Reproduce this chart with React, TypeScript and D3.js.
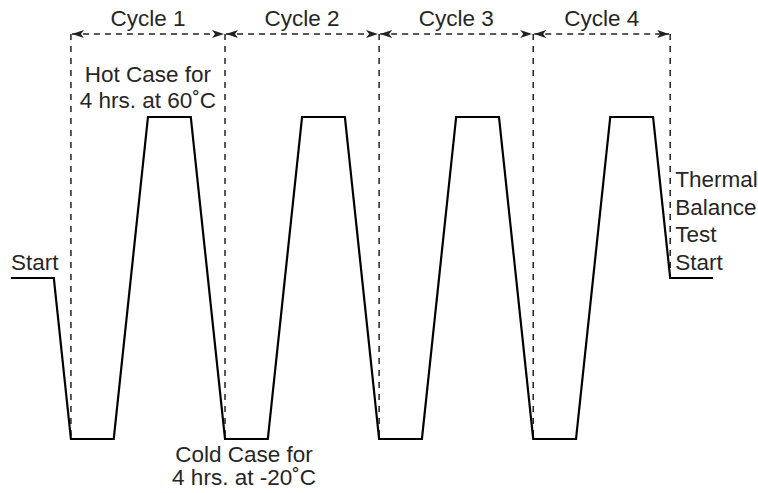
import React from "react";
import * as d3 from "d3";

// Profile: time (hours) vs temperature (°C)
const times = [0, 4, 5.6, 9.6, 12.8, 16.8, 20, 24, 27.2, 31.2, 34.4, 38.4, 41.6, 45.6, 48.8, 52.8, 56, 60, 61.6, 65.6];
const temps = [20, 20, -20, -20, 60, 60, -20, -20, 60, 60, -20, -20, 60, 60, -20, -20, 60, 60, 20, 20];
const cycleBounds = [5.6, 20, 34.4, 48.8, 61.6];
const cycleLabels = ["Cycle 1", "Cycle 2", "Cycle 3", "Cycle 4"];
const hotLabel = ["Hot Case for", "4 hrs. at 60˚C"];
const coldLabel = ["Cold Case for", "4 hrs. at -20˚C"];
const endLabel = ["Thermal", "Balance", "Test", "Start"];
const startLabel = "Start";

const W = 758;
const H = 493;

export default function App() {
  const x = d3.scaleLinear().domain([0, 65.6]).range([11, 713]);
  const y = d3.scaleLinear().domain([-20, 60]).range([439, 117]);
  const pts: [number, number][] = times.map((t, i) => [t, temps[i]]);
  const line = d3
    .line<[number, number]>()
    .x((d) => x(d[0]))
    .y((d) => y(d[1]));
  const interp = (t: number) => {
    for (let i = 0; i < times.length - 1; i++) {
      if (t >= times[i] && t <= times[i + 1]) {
        const f = (t - times[i]) / (times[i + 1] - times[i] || 1);
        return temps[i] + f * (temps[i + 1] - temps[i]);
      }
    }
    return temps[temps.length - 1];
  };
  const arrowY = 34;
  const textColor = "#262626";
  const font = "'Liberation Sans', Arial, Helvetica, sans-serif";
  const fs = 22.5;

  return (
    <svg
      width={W}
      height={H}
      style={{ position: "absolute", left: 0, top: 0, background: "#fff" }}
    >
      <defs>
        <marker
          id="ah"
          viewBox="0 0 12 8"
          refX="12"
          refY="4"
          markerWidth="12"
          markerHeight="8"
          markerUnits="userSpaceOnUse"
          orient="auto-start-reverse"
        >
          <path d="M0,0 L12,4 L0,8 L3,4 Z" fill="#222" />
        </marker>
      </defs>
      {/* dashed verticals */}
      {cycleBounds.map((t, i) => (
        <line
          key={"v" + i}
          x1={x(t)}
          x2={x(t)}
          y1={arrowY}
          y2={y(interp(t)) - 2}
          stroke="#222"
          strokeWidth={1.5}
          strokeDasharray="6,6"
        />
      ))}
      {/* cycle arrows */}
      {cycleLabels.map((lab, i) => {
        const x0 = x(cycleBounds[i]);
        const x1 = x(cycleBounds[i + 1]);
        return (
          <g key={"c" + i}>
            <line
              x1={x0 + 1}
              x2={x1 - 1}
              y1={arrowY}
              y2={arrowY}
              stroke="#222"
              strokeWidth={1.5}
              strokeDasharray="6,5"
              markerStart="url(#ah)"
              markerEnd="url(#ah)"
            />
            <text
              x={(x0 + x1) / 2}
              y={26}
              textAnchor="middle"
              fontFamily={font}
              fontSize={fs}
              fill={textColor}
            >
              {lab}
            </text>
          </g>
        );
      })}
      {/* profile */}
      <path d={line(pts) || ""} fill="none" stroke="#000" strokeWidth={2.2} strokeLinejoin="miter" />
      {/* labels */}
      {hotLabel.map((s, i) => (
        <text
          key={"h" + i}
          x={(x(cycleBounds[0]) + x(cycleBounds[1])) / 2}
          y={82 + i * 26}
          textAnchor="middle"
          fontFamily={font}
          fontSize={fs}
          fill={textColor}
        >
          {s}
        </text>
      ))}
      {coldLabel.map((s, i) => (
        <text
          key={"k" + i}
          x={x(cycleBounds[1]) + 19}
          y={462 + i * 23}
          textAnchor="middle"
          fontFamily={font}
          fontSize={fs}
          fill={textColor}
        >
          {s}
        </text>
      ))}
      <text x={x(0)} y={270} fontFamily={font} fontSize={fs} fill={textColor}>
        {startLabel}
      </text>
      {endLabel.map((s, i) => (
        <text
          key={"e" + i}
          x={x(cycleBounds[4]) + 5}
          y={187 + i * 27.7}
          fontFamily={font}
          fontSize={fs}
          fill={textColor}
        >
          {s}
        </text>
      ))}
    </svg>
  );
}
